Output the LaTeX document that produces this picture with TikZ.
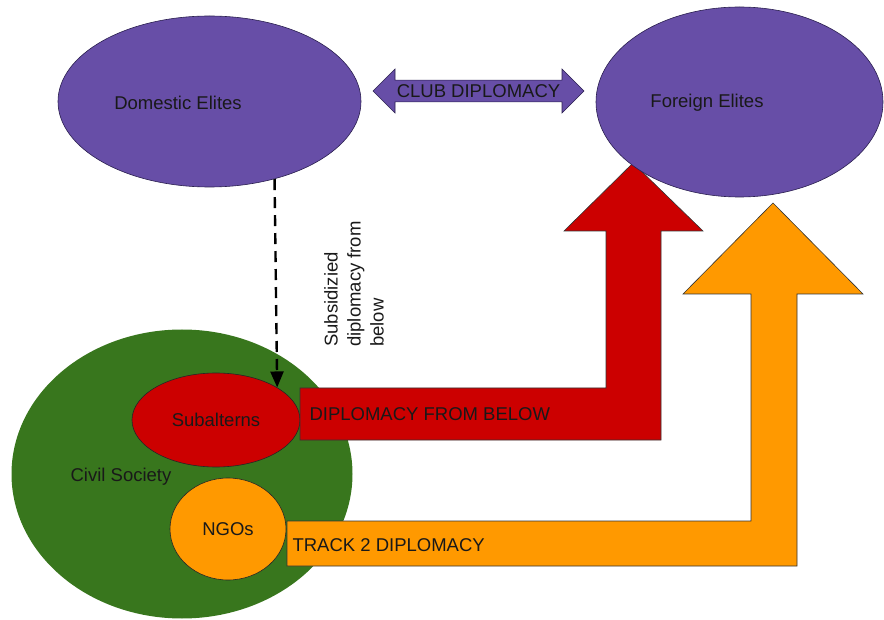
\documentclass[tikz,border=0pt]{standalone}
\usepackage{fontspec}
\setmainfont{Liberation Sans}
\usetikzlibrary{arrows.meta,shapes.geometric,shapes.arrows}
\definecolor{elitepurple}{HTML}{674EA7}
\definecolor{elitedark}{HTML}{2A1F4F}
\definecolor{civilgreen}{HTML}{38761D}
\definecolor{subred}{HTML}{CC0000}
\definecolor{ngoorange}{HTML}{FF9900}
\tikzset{
    elite-ellipse/.style = {ellipse, fill=elitepurple, draw=elitedark, semithick, inner sep=0pt},
    inner-ellipse/.style = {ellipse, draw=black!85, semithick, inner sep=0pt},
    block-arrow/.style = {draw=black!80, semithick, line join=miter},
    diagram-text/.style = {font=\fontsize{18.5}{23}\selectfont, text=black!90},
}

\begin{document}
\begin{tikzpicture}[x=1pt, y=-1pt]
\useasboundingbox (0,0) rectangle (884,620);
\node[elite-ellipse, minimum width=303pt, minimum height=171pt] (domestic) at (209.5,101.5) {};
\node[diagram-text] (domestic-text) at (178,103) {Domestic Elites};
% civil society and its groups
\node[ellipse, fill=civilgreen, minimum width=341pt, minimum height=289pt] (civil) at (182,474) {};
\node[diagram-text] (civil-text) at (121,477) {Civil Society};
\node[inner-ellipse, fill=subred, diagram-text, minimum width=168pt, minimum height=94pt] (sub) at (216,420) {Subalterns};
\node[inner-ellipse, fill=ngoorange, diagram-text, minimum width=116pt, minimum height=102pt] (ngo) at (228,529) {NGOs};
% block arrows
\draw[block-arrow, fill=subred] (300,388) -- (606,388) -- (606,231) -- (564,231) -- (633,163) -- (703,231) -- (661,231) -- (661,440) -- (300,440) -- cycle;
\node[diagram-text, anchor=west] (below-text) at (306,414) {DIPLOMACY FROM BELOW};
\draw[block-arrow, fill=ngoorange] (287,521) -- (751,521) -- (751,294) -- (683,294) -- (773,203) -- (863,294) -- (797,294) -- (797,566) -- (287,566) -- cycle;
\node[diagram-text, anchor=west] (track-text) at (289,545) {TRACK 2 DIPLOMACY};
\node[elite-ellipse, minimum width=287pt, minimum height=190pt] (foreign) at (739.5,102) {};
\node[diagram-text] (foreign-text) at (707,103) {Foreign Elites};
\node[double arrow, fill=elitepurple, draw=elitedark, semithick, diagram-text, minimum height=211pt, minimum width=44pt, double arrow head extend=11pt, inner xsep=0pt, inner ysep=4pt] (club) at (478.5,91) {CLUB DIPLOMACY};
% subsidized link
\draw[dash pattern=on 11pt off 7pt, line width=2.4pt, -{Triangle[width=13pt,length=16pt]}] (domestic.-50) -- (sub.28);
\node[diagram-text, rotate=90, align=left] (subsidized-text) at (354,284) {Subsidizied\\diplomacy from\\below};
\end{tikzpicture}
\end{document}
